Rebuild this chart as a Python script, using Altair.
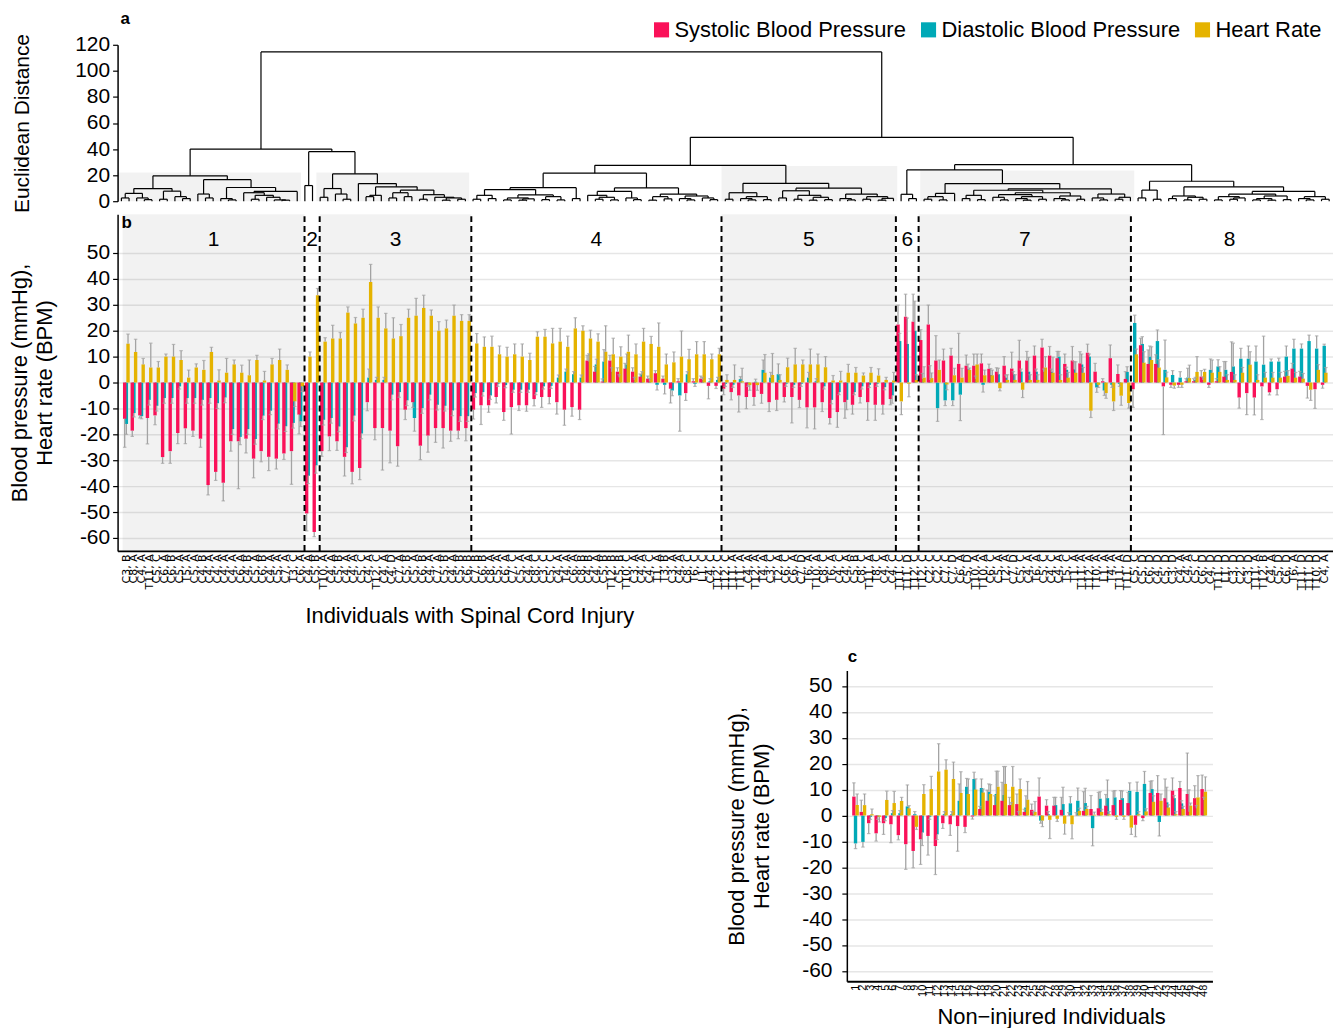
import json
import altair as alt
import pandas as pd

FONT = "Liberation Sans"
SERIES = ["Systolic Blood Pressure", "Diastolic Blood Pressure", "Heart Rate"]
PALETTE = ["#FA1159", "#00A9B7", "#E5B300"]
DRAW_ORDER = [1, 0, 2]  # diastolic drawn first, systolic over it, heart rate last
ERR_COLOR = "#A3A3A3"
LABEL_SIZE, TITLE_SIZE = 21, 22
HYPHEN_LABEL = "datum.value < 0 ? '-' + (-datum.value) : '' + datum.value"

# ---------------- clusters (panel a / b) ----------------
cluster_names = ["1", "2", "3", "4", "5", "6", "7", "8"]
cluster_sizes = [24, 2, 20, 33, 23, 3, 28, 26]
shaded_clusters = ["1", "3", "5", "7"]
box_heights = [22, 22, 27, 23.5]

# merge heights between neighbouring leaves (dendrogram), per cluster
within_gaps = [
    [2.5, 6, 2.5, 1.2, 9.7, 1.5, 7.7, 3.5, 2.0, 19.5, 5.5, 2.5, 16.5, 2.0, 1.0, 10.5, 6.5, 1.5, 4.5, 3.0, 1.0, 0.8, 7.5],
    [12],
    [3.0, 9.7, 5.5, 1.5, 21, 13.5, 3.5, 4.5, 11, 2.5, 6.5, 3.5, 8.5, 1.5, 5.0, 3.0, 0.8, 2.5, 1.5],
    [1.5, 4.5, 2, 8.9, 1, 2.5, 0.8, 1.8, 4.8, 1.2, 3.5, 1, 10.4, 2, 21.5, 4.5, 1.5, 3, 1, 7.5, 2.5, 1.2, 10.2, 0.8, 3.5, 1.8, 5.5, 2.0, 1.0, 4.0, 2.5, 1.2],
    [1.5, 6.5, 2, 1, 3.5, 1.2, 13.7, 2.5, 8, 1.5, 4.5, 0.8, 3, 1.2, 10, 2, 1, 5.5, 1.5, 3.5, 0.8, 2.2],
    [5.3, 2.0],
    [1.5, 3.5, 1, 6, 13.5, 2, 4.5, 1.2, 8.4, 3, 1, 5, 2, 0.8, 3.5, 1.5, 6.5, 2, 1, 4, 1.5, 9.5, 2.5, 1, 5.5, 1.5, 3],
    [2.5, 8.5, 1.5, 15.3, 2, 4, 1, 3, 1.5, 11, 1, 3.5, 1.5, 2.5, 5.5, 1, 2, 0.8, 4, 1.2, 7.5, 2, 1, 3.5, 1.5],
]
between_gaps = [40, 38, 114.5, 27.5, 49, 24, 28]

# ---------------- panel b data (individuals with SCI) ----------------
sci_labels = [
    "C3, B", "C8, A", "C4, A", "T11, A", "C5, C", "C6, A", "C6, B", "C5, A", "T5, A", "C5, A", "C4, B", "C4, A",
    "C4, A", "C4, A", "C4, A", "C6, A", "C4, B", "C5, A", "C6, B", "C4, A", "C5, A", "C7, A", "T3, C", "C6, A",
    "C4, A", "C5, B",
    "T10, A", "C4, A", "C5, B", "C4, A", "C4, A", "C5, C", "C4, A", "T12, C", "C4, A", "C4, D", "C7, A", "C5, B",
    "C5, A", "C6, B", "C4, A", "C7, A", "C5, B", "C4, A", "C5, B", "C6, B",
    "C7, B", "C6, B", "C8, A", "C5, A", "C6, A", "C7, C", "C5, A", "C4, A", "C8, C", "C3, C", "C5, C", "C4, A",
    "T4, A", "C6, A", "C8, B", "C4, B", "C4, A", "C5, B", "T12, B", "C5, B", "T10, C", "C3, A", "C4, A", "C4, C",
    "T1, A", "T3, B", "C3, A", "C4, A", "C8, C", "T6, C", "L1, C", "C4, C", "T12, C",
    "T12, C", "T11, A", "T11, A", "C4, A", "T12, A", "T4, A", "C3, C", "T2, A", "C6, C", "C6, A", "C7, D", "T6, A",
    "T10, A", "C8, C", "T6, A", "C4, C", "C4, A", "C5, B", "C8, C", "T11, A", "T8, C", "C4, A", "C4, C",
    "T11, C", "T11, D", "T12, C",
    "T12, C", "C2, C", "C2, C", "C7, C", "C7, D", "C6, A", "C5, D", "T10, A", "T10, A", "C6, C", "C5, A", "T2, A",
    "C7, D", "C5, C", "C4, A", "T6, A", "C5, C", "C4, C", "C4, A", "T5, C", "T1, A", "T11, A", "T12, A", "T10, A",
    "L1, A", "T4, A", "T11, A", "T11, D",
    "C5, C", "C5, D", "C6, D", "C4, D", "C5, D", "C3, D", "C4, A", "C4, A", "C5, C", "C6, D", "C4, D", "T11, D",
    "L1, D", "C3, D", "C2, D", "C3, D", "T11, A", "T12, B", "C4, A", "C5, D", "C6, D", "T6, A", "T11, D", "T11, D",
    "T10, D", "C4, A",
]
sci_sbp = [
    -14, -18.6, -12.7, -13.7, -12.7, -28.8, -26.5, -19.5, -17.7, -18.6, -21.7, -39.6, -34.5, -38.7, -22.7, -22.7,
    -21.7, -29.4, -26.5, -28.7, -29.4, -27.4, -26.5, -12.4,
    -50.6, -57.7,
    -26.5, -20.8, -22.7, -28.7, -34.5, -33, -7.6, -17.6, -17.6, -18.6, -24.6, -10.5, -7.6, -24.4, -20.5, -17.6,
    -17.6, -18.6, -18.6, -17.6,
    -10.5, -8.8, -8.8, -5.6, -11.4, -9.5, -8.8, -8.8, -6.4, -5.6, -5.6, -7.6, -10.5, -9.5, -10.5, 8.5, 4.2, 0.4,
    8.5, 4.2, 5.4, 4.2, 2.3, 1.5, 3.6, 1.5, -2.4, 0.5, -4.1, 0.5, 1.5, -1.3, -1.3,
    -2.4, -3.7, -5, -5.6, -5.6, -4.4, -7.6, -6.7, -5.6, -5.6, -6.7, -9.6, -9.6, -7.6, -13.7, -11.4, -7.6, -8.6,
    -5.6, -7.6, -8.6, -8.6, -6.4,
    22.4, 25.4, 23.5,
    16.4, 22.4, 8.5, 8.5, 10.4, 7.2, 6.5, 6.5, 7.4, 5.3, 4.2, 6.5, 5.4, 8.5, 8.5, 10.4, 13.5, 10.4, 9.4, 7.2, 8.5,
    7.4, 11.5, 4.2, 0.5, 9.4, 3.3, 1.4,
    -2.6, 14.4, 7.2, 7.2, -1.5, -0.9, -0.9, 0.5, 0.5, 2.3, -0.9, 0.5, 2.3, 4.1, -5.8, -4.1, -5.8, -1.5, -3.8, -2.6,
    2.3, 5.4, 2.3, -1.3, -2.6, -0.9,
]
sci_dbp = [
    -16, -11.8, -13, -6.7, -9, -6, -6, -1.5, -6, -6, -6.7, -6, -8, -5.8, -18, -21, -18, -21.8, -12.8, -10.9, -15.9,
    -16.9, -15.6, -15,
    -36, -32,
    -14.4, -13.7, -17, -25, -12.8, -19.7, 1.9, 1, 1, -4.7, -3.7, -6.9, -13.7, -9.9, -4.7, -8.6, -9, -10.8, -13, -13,
    -4.1, -3.7, -5, -0.5, -1, -2.8, -2.8, -2.8, -3.7, -1.5, -1.3, 1.9, 4.2, 3.2, 1.9, 8.1, 7, 8.1, 4.2, 2, 7, 1,
    3.2, 0.5, -0.9, -0.9, -3.1, -5, 3.2, -0.5, 1, 0.5, 1,
    -0.5, -0.9, 1.3, -0.5, 0.3, 4.9, 1.9, 3.2, -0.5, -0.9, -0.5, 1.9, 0.5, -1.5, -6.7, -3.7, -6.7, -3.7, -1.5,
    -0.9, -0.5, -1.8, -5,
    16, 14.9, 20,
    1.5, 1, -9.9, -6.9, -6.9, -4.7, 5.1, 1.5, -0.9, 2.9, 3.2, 1.9, 3.2, 4.2, 4.2, 4.2, 4.2, 4.2, 10, 4.9, 5.1, 7,
    10, -1.9, -3.1, -0.9, -0.5, 4.1,
    23, 14.9, 10, 16, 4.9, 2.9, 1.9, 1.9, 1, 1, 4.9, 6.2, 4.9, 6.2, 9.2, 9.2, 8.1, 6.9, 8.1, 8.1, 10, 13.1, 13.1,
    16, 13.1, 14.2,
]
sci_hr = [
    15, 11.8, 7, 5.8, 5.8, 10, 10, 8.7, 1.9, 5.8, 4.9, 11.8, 0.8, 3.8, 7, 3.8, 2.8, 8.7, 0.8, 7, 8.7, 4.9, -7.3, -1.5,
    10, 33.7,
    15.8, 17, 17, 27, 22.8, 25, 38.8, 25, 20.9, 17, 17.9, 25, 25.8, 28.8, 25.8, 20, 20.9, 25.8, 23.8, 23.8,
    15.1, 13.8, 13.8, 10.9, 10, 10.9, 10, 8.7, 17.7, 17.7, 15.1, 15.8, 13.8, 20.9, 20, 17, 15.8, 11.9, 10.9, 10,
    11.9, 10.9, 15.8, 14.9, 13.8, 7, 7.8, 10, 9, 10.9, 10.9, 9, 10.9,
    1, 1, 0.5, -1, -1, 3.8, 2.9, 1, 5.9, 7, 7, 7, 7, 5.9, 0.8, 0.8, 3.8, 3.8, 2.7, 3.8, 2.7, 1, 0.8,
    -7.3, -0.5, 1,
    1.9, 1.7, 4.9, -0.8, 2.8, 1.9, 4.9, 7, 2.8, 2.8, -2.2, 1, 1, -2.8, 1, 1, 5.8, 3.8, 1, 1.9, 3.8, 3.8, -10.9,
    -0.9, -4.1, -7.3, -5.1, -7.9,
    10.9, 7.7, 8.7, 5.8, 2, -1.2, -0.9, 1.7, 4.1, 4.1, 3.8, 4.1, 1, 1, 3.8, 6.9, 1, 1.9, 1.9, 1.9, 2.6, 1.9, 1.5,
    -2.8, 4.9, 3.8,
]
sci_sbp_sd = [
    11, 2.2, 1, 10, 3.6, 2.4, 4.7, 4.1, 5.9, 2.2, 3.3, 3.8, 3.3, 7, 3.8, 18.3, 5.5, 7.4, 4.1, 5.3, 4, 2.3, 12.8, 7.4,
    6.7, 1.8,
    2, 5.5, 3.5, 7.4, 4.6, 4.5, 3.3, 4.5, 16.2, 12.4, 7.7, 3.8, 2, 5.4, 6.4, 5.5, 7.7, 4.1, 3.1, 4.9,
    3.6, 7.4, 2.7, 2.3, 3.2, 10.4, 2, 2.3, 2.6, 4, 2.6, 4.6, 6, 3.5, 3.8, 2, 2, 1, 2, 1.5, 2, 1.5, 1, 1, 1, 1, 5.5,
    1, 2.8, 1, 1, 5, 1,
    2.3, 3, 6.4, 4.5, 3.2, 3.6, 3.6, 4.1, 1.9, 10, 3, 7.9, 8.3, 3.6, 2.3, 5.9, 6.2, 3.6, 2.3, 7, 6, 3.6, 2.2,
    7.5, 8.7, 10.6,
    4, 7.5, 9.6, 4.4, 2.8, 11.8, 4.1, 4.5, 3.6, 1.8, 1.5, 3.5, 6.3, 7.8, 3.5, 3.7, 3.2, 3.5, 2.6, 3.8, 5.4, 4.5,
    3.3, 3.2, 1, 5.1, 3.5, 2.8,
    7, 2.7, 5.4, 3.5, 18.6, 1, 1, 1, 1, 2.3, 1, 1, 5.8, 11.6, 4.1, 8.3, 6.7, 12.8, 1, 2.2, 2, 2, 2, 4.7, 7.4, 1.3,
]
sci_dbp_sd = [
    4, 1.5, 1, 2, 2, 2, 2, 1, 2, 2, 2, 2, 2, 2, 2, 3, 2, 2, 1.5, 1.5, 2, 2, 2, 2,
    3, 3,
    2, 2, 2, 2, 2, 2, 3.3, 1, 1, 2, 2, 2, 5.1, 2, 2, 2, 2, 2, 2, 2,
    1.5, 1.5, 1.5, 1, 1, 1, 1, 1, 1, 1, 1, 1, 1, 1, 1, 3, 2, 4.6, 1.5, 1, 4, 1, 1, 1, 2, 3.5, 2, 13.8, 1, 1, 1, 1, 1,
    1, 1, 1, 1, 1, 3.8, 2, 4, 1, 1, 1, 2, 1, 1, 1.5, 1, 3.8, 1, 1, 1, 1, 1, 3,
    3, 10, 11.4,
    2, 5.5, 5.1, 2, 2, 10, 2, 1, 2.8, 2.5, 2.3, 1, 1, 1, 5.5, 1, 1, 1, 2, 1, 3, 4, 1, 1.9, 1.9, 1, 1, 2,
    3, 2.8, 4.1, 4.3, 11.5, 1.7, 2.3, 3.6, 1, 1, 4.2, 2.6, 3.2, 9, 4, 4.9, 6, 11, 1, 1.3, 4.1, 3.6, 1.8, 2.3, 4.9, 0.6,
]
sci_hr_sd = [
    3.7, 4.9, 2.3, 9.4, 2.3, 1, 4.7, 3.6, 2.9, 1.4, 3.6, 1.8, 4.1, 5.5, 1.7, 2.9, 5.9, 1.8, 3.5, 2.3, 4.2, 1.9, 2, 2,
    1.8, 2.6,
    1.5, 5.1, 2.3, 2.2, 2.3, 3.3, 6.8, 4.2, 5.8, 8, 4.5, 3.3, 6.7, 4.9, 2.2, 3.5, 3.2, 4.1, 2.4, 2.4,
    3.8, 3.8, 4.1, 3.2, 3.6, 4, 4.9, 2.6, 1.9, 2.8, 5.8, 5.1, 4.1, 4.1, 1.9, 3.2, 3, 10, 6.2, 3.8, 6.4, 4, 5.1, 2.9,
    9.2, 4, 4, 9.9, 3.8, 4.9, 4.9, 2, 2.3,
    2, 5.8, 5, 2, 2, 7, 8.3, 2, 3.5, 6.2, 1.7, 5.9, 4, 4.1, 1.9, 3.5, 3.2, 2, 1, 2, 2.6, 1, 3.1,
    5.1, 5, 2,
    4.2, 2, 3.8, 2, 2.7, 3.6, 0.7, 4, 2, 2, 1, 2, 2, 3, 2, 2, 4.2, 6, 2, 2, 4.2, 2, 2.6, 1, 2, 3.5, 3.7, 2,
    2, 4.2, 5.1, 3, 2, 1, 1, 5, 5.9, 1, 4.9, 2, 2, 2, 2, 5, 2, 2, 2, 2, 2, 2, 2, 4.1, 2, 2,
]

# ---------------- panel c data (non-injured individuals) ----------------
ctl_labels = [str(i) for i in range(1, 49)]
ctl_sbp = [7.3, 1.4, -3, -6.9, -3, -3.4, -7.6, -11.1, -13.7, -9.2, -7.9, -11.8, -3, -3.4, -4.1, -4.4, -0.4, 2.5,
           5.7, 4, 5.7, 4, 4.4, 1.4, 2.2, 7.3, 3.8, 3.8, 2.2, 0.1, 0.1, 1.8, 2.5, 2.8, 3.8, 4, 6, 4.8, -3.6, -1,
           8.7, 8.7, 6.7, 9.6, 10.6, 8.3, 6.7, 10.2]
ctl_dbp = [-10.8, -10.2, -0.5, -0.5, -1, 0.9, 0.9, 3.5, 0.5, -6.6, -0.5, -7.3, 0.5, 0.5, 5.7, 11.1, 14.1, 10.6,
           9.1, 8.3, 7.9, 4, 0.5, 3.1, 0.5, -2, 0.5, 4, 4.4, 4.7, 5.7, 4.8, -4.9, 6.5, 6.7, 7, 6.7, 9.5, 9.1, 12.2,
           10.2, -2.5, 5.1, 6.7, 4.7, 1.4, 2.8, 6]
ctl_hr = [4, 4, 0.5, -0.5, 6, 4.8, 5.6, 2.8, -4.4, 8.3, 10.2, 17, 17.7, 14.1, 8.7, 8.3, 10, 8.9, 8.3, 11.1, 12.2,
          11.1, 10.2, 6.1, 1.4, -2, -1.7, -1.3, -3.2, -3.4, 1.8, 2.5, 0.3, 1.4, 0.5, -0.5, -0.5, -4.7, 0.5, 1.6,
          5.3, 5.7, 3.1, 0.5, 2.5, 3.8, 7, 9.2]
ctl_sbp_sd = [5.3, 4.5, 4, 3, 4.3, 7.1, 1.8, 9.7, 6.5, 9.7, 7.4, 11, 2, 4.3, 9.7, 2.2, 1, 1, 4.1, 3.6, 7.1, 3,
              3.9, 1, 2.2, 7.2, 2.3, 3.2, 4.8, 1, 1, 7.4, 5.2, 6.1, 4.3, 5.4, 3.6, 4.1, 4.6, 1, 4.5, 6.7, 7.4,
              4.9, 2.5, 15.8, 4.8, 5.4]
ctl_dbp_sd = [2, 2, 1, 1, 1, 1, 1, 8.3, 1, 5, 1, 2, 1, 1, 6.5, 3.2, 2.6, 3.5, 3.1, 8.8, 11, 1, 1, 4.5, 1, 1, 1, 3,
              6.5, 2.6, 4.9, 5.7, 6.8, 2.7, 7, 2.6, 2.8, 3.1, 3.8, 4.8, 3.2, 5.4, 5.8, 1, 1, 8.5, 1, 1]
ctl_hr_sd = [4.3, 4.3, 2, 2, 3.4, 4.5, 1.4, 1, 1, 3.6, 4.9, 10.7, 3.8, 6.5, 8.2, 5.8, 4.1, 1.3, 3.6, 6, 6.7, 7.8,
             3.9, 7, 4, 2.3, 7.2, 1, 4, 5.6, 1, 1, 1, 1, 1, 1, 1, 2.6, 1, 1, 2.3, 2.6, 1, 1, 1, 1, 8.4, 5.7]

N = sum(cluster_sizes)
for arr in (sci_labels, sci_sbp, sci_dbp, sci_hr, sci_sbp_sd, sci_dbp_sd, sci_hr_sd):
    assert len(arr) == N, len(arr)
for arr in (ctl_sbp, ctl_dbp, ctl_hr, ctl_sbp_sd, ctl_dbp_sd, ctl_hr_sd):
    assert len(arr) == 48
for g, s in zip(within_gaps, cluster_sizes):
    assert len(g) == s - 1

# ---------------- layout constants ----------------
B_W, B_H = 1220, 338
A_H = 157
C_W, C_H = 367, 312
B_DOM = [-65, 65]
C_DOM = [-64, 56]
BAR_OFF = 0.22
BAR_W = 3.4


def long_frame(sbp, dbp, hr, ssd, dsd, hsd):
    rows = []
    offs = [-BAR_OFF, 0.0, BAR_OFF]
    for i in range(len(sbp)):
        vals = (sbp[i], dbp[i], hr[i])
        sds = (ssd[i], dsd[i], hsd[i])
        for s in DRAW_ORDER:
            v = vals[s]
            end = v + sds[s] if v >= 0 else v - sds[s]
            rows.append({"ind": i, "series": SERIES[s], "xpos": i + 0.5 + offs[s],
                         "value": v, "zero": 0.0, "err_end": end})
    return pd.DataFrame(rows)


sci_df = long_frame(sci_sbp, sci_dbp, sci_hr, sci_sbp_sd, sci_dbp_sd, sci_hr_sd)
ctl_df = long_frame(ctl_sbp, ctl_dbp, ctl_hr, ctl_sbp_sd, ctl_dbp_sd, ctl_hr_sd)

# clusters
rows = []
start = 0
for name, size in zip(cluster_names, cluster_sizes):
    rows.append({"cluster": name, "start": start, "end": start + size, "center": start + size / 2,
                 "ylo": B_DOM[0], "yhi": B_DOM[1], "ytxt": 55})
    start += size
clusters_df = pd.DataFrame(rows)
bounds_df = clusters_df.iloc[:-1][["end", "ylo", "yhi"]]
shaded_df = clusters_df[clusters_df["cluster"].isin(shaded_clusters)].copy()
shaded_df["base"] = 0.0
shaded_df["box_h"] = box_heights

# dendrogram from ordered merge heights
gaps = []
for k, g in enumerate(within_gaps):
    gaps += g
    if k < len(between_gaps):
        gaps.append(between_gaps[k])
assert len(gaps) == N - 1
segs = []


def build(lo, hi):
    if lo == hi:
        return lo + 0.5, 0.0
    k = max(range(lo, hi), key=lambda j: gaps[j])
    lx, lh = build(lo, k)
    rx, rh = build(k + 1, hi)
    h = gaps[k]
    segs.append({"x1": lx, "x2": lx, "y1": lh, "y2": h})
    segs.append({"x1": rx, "x2": rx, "y1": rh, "y2": h})
    segs.append({"x1": lx, "x2": rx, "y1": h, "y2": h})
    return (lx + rx) / 2, h


build(0, N - 1)
segs_df = pd.DataFrame(segs)

# ---------------- shared styling ----------------
color_enc_legend = alt.Color(
    "series:N",
    scale=alt.Scale(domain=SERIES, range=PALETTE),
    legend=alt.Legend(orient="none", legendX=535, legendY=-26, direction="horizontal", title=None,
                      labelFontSize=22, labelFont=FONT, labelColor="black", labelLimit=400,
                      symbolType="square", symbolSize=230, symbolStrokeWidth=0, symbolOpacity=1,
                      labelOffset=2, columnPadding=11, padding=0),
)
color_enc_none = alt.Color("series:N", scale=alt.Scale(domain=SERIES, range=PALETTE), legend=None)


def y_axis(title, title_pad, label_pad):
    return alt.Axis(values=list(range(-60, 51, 10)), title=title, titleFontSize=TITLE_SIZE,
                    titleFontWeight="normal", labelFontSize=LABEL_SIZE, labelExpr=HYPHEN_LABEL,
                    grid=True, gridColor="#E6E6E6", gridWidth=1.5, domainColor="black",
                    domainWidth=1.5, tickColor="black", tickSize=5, tickWidth=1.2, labelPadding=label_pad,
                    titlePadding=title_pad, titleLineHeight=25)


BP_TITLE = ["Blood pressure (mmHg),", "Heart rate (BPM)"]


def tag_layer(letter, x_px, y_px):
    return alt.Chart(pd.DataFrame({"tag": [letter]})).mark_text(
        fontSize=17, fontWeight="bold", font=FONT, color="black", align="left", baseline="middle").encode(
        x=alt.value(x_px), y=alt.value(y_px), text="tag:N")


def bar_panel(df, n, labels, dom, color_enc, x_title, title_x, label_size, label_font, title_pad,
              y_pad, y_label_pad):
    xs = alt.Scale(domain=[0, n], nice=False, zero=False)
    ys = alt.Scale(domain=dom, nice=False, zero=False)
    xaxis = alt.Axis(values=[i + 0.5 for i in range(n)],
                     labelExpr=json.dumps(labels) + "[floor(datum.value)]",
                     labelAngle=-90, labelFontSize=label_size, labelFont=label_font, labelOverlap=False,
                     labelFlush=False, labelPadding=3, ticks=False, grid=False, domainColor="black",
                     domainWidth=2, title=x_title, titleFontSize=TITLE_SIZE, titleFontWeight="normal",
                     titleX=title_x, titleAlign="center", titlePadding=title_pad)
    yaxis = y_axis(BP_TITLE, y_pad, y_label_pad)
    base = alt.Chart(df)
    bars = base.mark_bar(width=BAR_W, orient="vertical").encode(
        x=alt.X("xpos:Q", scale=xs, axis=xaxis),
        y=alt.Y("value:Q", scale=ys, axis=yaxis),
        y2="zero:Q",
        color=color_enc,
    )
    err = base.mark_rule(color=ERR_COLOR, strokeWidth=1.3).encode(
        x=alt.X("xpos:Q", scale=xs, axis=xaxis),
        y=alt.Y("value:Q", scale=ys, axis=yaxis),
        y2="err_end:Q",
    )
    caps = base.mark_tick(color=ERR_COLOR, orient="horizontal", size=3.5, thickness=1.2).encode(
        x=alt.X("xpos:Q", scale=xs, axis=xaxis),
        y=alt.Y("err_end:Q", scale=ys, axis=yaxis),
    )
    return xs, ys, xaxis, yaxis, [bars, err, caps]


# ---------------- panel a : dendrogram ----------------
xs_a = alt.Scale(domain=[0, N], nice=False, zero=False)
ys_a = alt.Scale(domain=[0, 120], nice=False, zero=False)
ya_axis = alt.Axis(values=list(range(0, 121, 20)), title="Euclidean Distance", titleFontSize=21,
                   titleFontWeight="normal", labelFontSize=LABEL_SIZE, grid=False, domainColor="black",
                   domainWidth=1.5, tickColor="black", tickSize=5, tickWidth=1.2, labelPadding=3,
                   titlePadding=42)
boxes_a = alt.Chart(shaded_df).mark_rect(color="black", opacity=0.05).encode(
    x=alt.X("start:Q", scale=xs_a, axis=None), x2="end:Q",
    y=alt.Y("base:Q", scale=ys_a, axis=ya_axis), y2="box_h:Q",
)
lines_a = alt.Chart(segs_df).mark_rule(color="black", strokeWidth=1.2).encode(
    x=alt.X("x1:Q", scale=xs_a, axis=None), x2="x2:Q",
    y=alt.Y("y1:Q", scale=ys_a, axis=ya_axis), y2="y2:Q",
)
panel_a = alt.layer(boxes_a, lines_a, tag_layer("a", 3, -26)).properties(width=B_W, height=A_H)

# ---------------- panel b ----------------
xs_b, ys_b, xaxis_b, yaxis_b, layers_b = bar_panel(
    sci_df, N, sci_labels, B_DOM, color_enc_legend,
    "Individuals with Spinal Cord Injury", 353, 11, "DejaVu Sans", 16, 23, 3)
bg_b = alt.Chart(shaded_df).mark_rect(color="black", opacity=0.05).encode(
    x=alt.X("start:Q", scale=xs_b, axis=xaxis_b), x2="end:Q",
    y=alt.Y("ylo:Q", scale=ys_b, axis=yaxis_b), y2="yhi:Q",
)
dash_b = alt.Chart(bounds_df).mark_rule(color="black", strokeWidth=2, strokeDash=[6, 4]).encode(
    x=alt.X("end:Q", scale=xs_b, axis=xaxis_b),
    y=alt.Y("ylo:Q", scale=ys_b, axis=yaxis_b), y2="yhi:Q",
)
num_b = alt.Chart(clusters_df).mark_text(fontSize=21, font=FONT, color="black", baseline="middle").encode(
    x=alt.X("center:Q", scale=xs_b, axis=xaxis_b),
    y=alt.Y("ytxt:Q", scale=ys_b, axis=yaxis_b),
    text="cluster:N",
)
panel_b = alt.layer(bg_b, *layers_b, dash_b, num_b, tag_layer("b", 4, 9)).properties(width=B_W, height=B_H)

# ---------------- panel c ----------------
xs_c, ys_c, xaxis_c, yaxis_c, layers_c = bar_panel(
    ctl_df, 48, ctl_labels, C_DOM, color_enc_none,
    "Non\u2212injured Individuals", 205, 11, FONT, 10, 28, 10)
panel_c = alt.layer(*layers_c, tag_layer("c", 1, -13)).properties(width=C_W, height=C_H)

spacer = alt.Chart(pd.DataFrame({"v": [0]})).mark_point(opacity=0).encode(
    x=alt.X("v:Q", axis=None), y=alt.Y("v:Q", axis=None)).properties(width=610, height=20)

top = alt.vconcat(panel_a, panel_b, spacing=0)
bottom = alt.hconcat(spacer, panel_c, spacing=0)
chart = alt.vconcat(top, bottom, spacing=21).properties(
    padding={"left": 0, "right": 0, "top": 0, "bottom": 0}
).configure(font=FONT).configure_view(stroke=None).configure_axis(
    labelFont=FONT, titleFont=FONT, labelColor="black", titleColor="black"
)

chart.save("out.html", embed_options={"renderer": "svg", "actions": False})
